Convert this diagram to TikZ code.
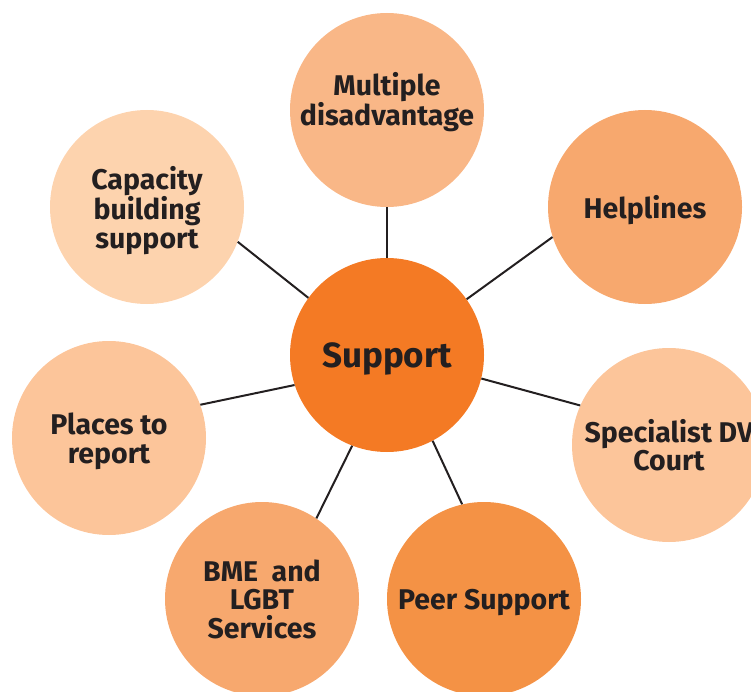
\documentclass[tikz,border=0pt]{standalone}
\usepackage{fontspec}
\setmainfont{Fira Sans}
\usetikzlibrary{positioning}
\definecolor{hub}{HTML}{F47A24}
\definecolor{peach}{HTML}{F9B787}
\definecolor{apricot}{HTML}{F7A86E}
\definecolor{cream}{HTML}{FDD3AE}
\definecolor{sand}{HTML}{FCC59A}
\definecolor{tangerine}{HTML}{F49245}
\definecolor{ink}{HTML}{231F20}
\tikzset{
  every node/.style={text=ink,font=\bfseries\fontsize{28.5}{28.5}\selectfont,text depth=0pt},
  bubble/.style={circle,minimum size=194pt,inner sep=0pt,align=center},
  hubbubble/.style={bubble,fill=hub,font=\bfseries\fontsize{35}{38}\selectfont},
  spoke/.style={draw=ink,line width=2pt},
}

\begin{document}
\begin{tikzpicture}[x=1pt,y=-1pt]
\useasboundingbox (0,0) rectangle (751,692);
\clip (0,0) rectangle (751,692);

% hub
\node[hubbubble] (support) at (387,355) {Support};

% outer ring
\node[bubble,fill=peach] (multiple) at (387,110) {};
\node[align=center] (multiplelbl) at (387,99) {Multiple\\disadvantage};
\node[bubble,fill=apricot] (helplines) at (645,207) {Helplines};
\node[bubble,fill=sand] (court) at (669,445) {Specialist DV\\Court};
\node[bubble,fill=tangerine] (peer) at (484,599) {Peer Support};
\node[bubble,fill=apricot] (bme) at (262,599) {BME~~and\\LGBT\\Services};
\node[bubble,fill=sand] (places) at (109,438) {Places to\\report};
\node[bubble,fill=cream] (capacity) at (147,207) {Capacity\\building\\support};

% spokes
\draw[spoke] (support.90) -- (multiple.270);
\draw[spoke] (support.35) -- (helplines.198);
\draw[spoke] (support.-14) -- (court.156);
\draw[spoke] (support.-62) -- (peer.103);
\draw[spoke] (support.-111) -- (bme.56);
\draw[spoke] (support.198) -- (places.20);
\draw[spoke] (support.144) -- (capacity.-21);

\end{tikzpicture}
\end{document}
